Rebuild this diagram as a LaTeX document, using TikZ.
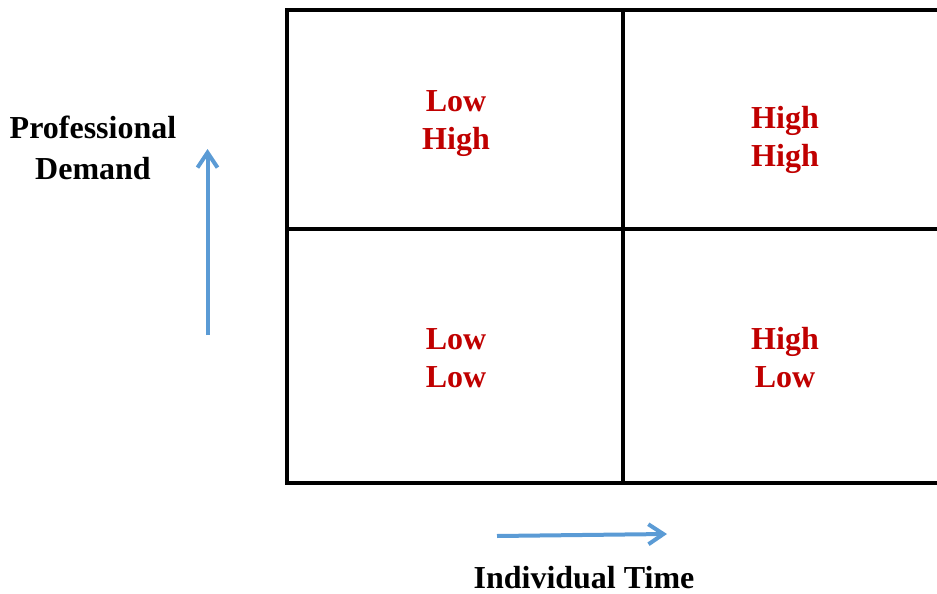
\documentclass[tikz,border=0pt]{standalone}
\usepackage{fontspec}
\setmainfont{Liberation Serif}
\usetikzlibrary{arrows.meta}
\definecolor{arrowblue}{RGB}{91,155,213}
\definecolor{cellred}{RGB}{192,0,0}
\begin{document}
\begin{tikzpicture}[x=1pt,y=-1pt,
  gridline/.style={draw=black,line width=3.5pt},
  celltext/.style={text=cellred,font=\bfseries\fontsize{32}{38}\selectfont,align=center,inner sep=0pt},
  axislabel/.style={text=black,font=\bfseries\fontsize{32}{41}\selectfont,align=center,inner sep=0pt},
  axisarrow/.style={draw=arrowblue,line width=4pt,-{Straight Barb[length=15pt,width=20pt,line width=4pt]}}]
\useasboundingbox (0,0) rectangle (937,594);
% grid
\coordinate (tr) at (937,10);
\coordinate (tl) at (287,10);
\coordinate (bl) at (287,483);
\coordinate (br) at (937,483);
\coordinate (mt) at (623,10);
\coordinate (mb) at (623,483);
\coordinate (ml) at (287,229);
\coordinate (mr) at (937,229);
\draw[gridline] (tr) -- (tl) -- (bl) -- (br);
\draw[gridline] (mt) -- (mb);
\draw[gridline] (ml) -- (mr);
% cell texts
\node[celltext] (c11) at (456,124) {Low\\High};
\node[celltext] (c12) at (785,140) {High\\High};
\node[celltext] (c21) at (456,358) {Low\\Low};
\node[celltext] (c22) at (785,358) {High\\Low};
% axis labels
\node[axislabel] (ylab) at (93,148) {Professional\\Demand};
\node[axislabel] (xlab) at (584,578) {Individual Time};
% arrows
\coordinate (ya) at (207.5,335);
\coordinate (yb) at (207.5,149);
\coordinate (xa) at (497,536);
\coordinate (xb) at (667,534);
\draw[axisarrow] (ya) -- (yb);
\draw[axisarrow] (xa) -- (xb);
\end{tikzpicture}
\end{document}
